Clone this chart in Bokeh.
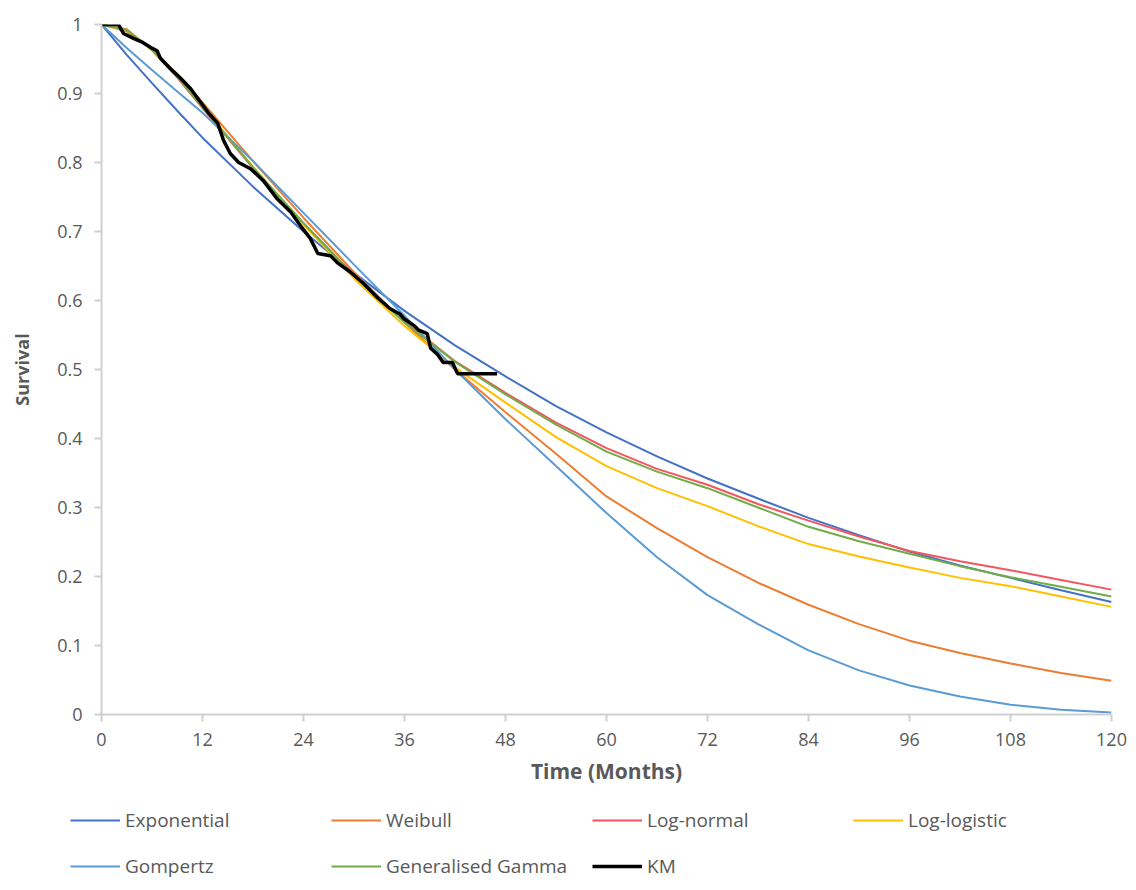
from bokeh.plotting import figure
from bokeh.models import Legend, LegendItem, FixedTicker, Range1d
from bokeh.layouts import column
from bokeh.embed import file_html
from bokeh.resources import INLINE

# ---- data ----
months = [0, 3, 6, 9, 12, 18, 24, 30, 36, 42, 48, 54, 60, 66, 72, 78, 84, 90, 96, 102, 108, 114, 120]
exponential = [1, 0.956, 0.915, 0.875, 0.836, 0.765, 0.700, 0.640, 0.585, 0.535, 0.490, 0.447, 0.409, 0.374,
               0.342, 0.313, 0.285, 0.260, 0.236, 0.216, 0.198, 0.180, 0.163]
weibull = [1, 0.990, 0.964, 0.928, 0.887, 0.802, 0.720, 0.641, 0.568, 0.500, 0.438, 0.378, 0.316, 0.270,
           0.228, 0.191, 0.159, 0.131, 0.107, 0.089, 0.074, 0.060, 0.049]
lognormal = [1, 0.993, 0.963, 0.923, 0.879, 0.792, 0.712, 0.637, 0.570, 0.512, 0.466, 0.423, 0.386, 0.356,
             0.333, 0.305, 0.281, 0.258, 0.237, 0.222, 0.209, 0.195, 0.181]
loglogistic = [1, 0.992, 0.963, 0.925, 0.882, 0.794, 0.710, 0.632, 0.563, 0.503, 0.452, 0.402, 0.360, 0.328,
               0.302, 0.273, 0.247, 0.229, 0.213, 0.198, 0.186, 0.171, 0.156]
gompertz = [1, 0.966, 0.934, 0.903, 0.872, 0.802, 0.727, 0.652, 0.578, 0.500, 0.428, 0.360, 0.292, 0.228,
            0.173, 0.131, 0.093, 0.064, 0.042, 0.026, 0.014, 0.007, 0.003]
gengamma = [1, 0.992, 0.963, 0.924, 0.880, 0.793, 0.712, 0.636, 0.568, 0.511, 0.464, 0.420, 0.381, 0.352,
            0.328, 0.300, 0.272, 0.251, 0.233, 0.215, 0.199, 0.185, 0.171]

km_time = [0, 2, 2.6, 3.8, 4.9, 6.1, 6.6, 7.0, 8.2, 9.4, 10.6, 11.8, 12.7, 13.8, 14.5, 15.3, 16.3, 17.7,
           19.2, 20.9, 22.5, 23.6, 24.8, 25.7, 27.2, 28.0, 29.6, 31.1, 32.8, 34.3, 35.5, 35.9, 37.1, 37.7,
           38.7, 39.1, 39.9, 40.6, 41.7, 42.3, 47.0]
km_surv = [1, 1, 0.987, 0.980, 0.974, 0.965, 0.962, 0.951, 0.936, 0.922, 0.907, 0.887, 0.872, 0.857, 0.832,
           0.813, 0.800, 0.791, 0.774, 0.747, 0.728, 0.709, 0.690, 0.668, 0.665, 0.655, 0.641, 0.625, 0.604,
           0.588, 0.580, 0.574, 0.564, 0.557, 0.552, 0.531, 0.522, 0.510, 0.510, 0.494, 0.494]

x_ticks = [0, 12, 24, 36, 48, 60, 72, 84, 96, 108, 120]
y_ticks = [0, 0.1, 0.2, 0.3, 0.4, 0.5, 0.6, 0.7, 0.8, 0.9, 1]

series = [
    ("Exponential", exponential, "#4472C4"),
    ("Weibull", weibull, "#ED7D31"),
    ("Log-normal", lognormal, "#F4555F"),
    ("Log-logistic", loglogistic, "#FFC000"),
    ("Gompertz", gompertz, "#5B9BD5"),
    ("Generalised Gamma", gengamma, "#70AD47"),
]

FONT = "Open Sans"
GREY = "#595959"
AXIS_GREY = "#D0D0D0"

# ---- main chart ----
p = figure(frame_width=1010, frame_height=690, output_backend="svg", toolbar_location=None,
           x_range=Range1d(0, 120), y_range=Range1d(0, 1),
           min_border_left=101, min_border_top=24, min_border_right=17, min_border_bottom=90)
p.outline_line_color = None
p.grid.visible = False

for name, vals, col in series:
    p.line(months, vals, line_color=col, line_width=2)
p.line(km_time, km_surv, line_color="black", line_width=3.5)

for ax in (p.xaxis[0], p.yaxis[0]):
    ax.axis_line_color = AXIS_GREY
    ax.axis_line_width = 2
    ax.major_tick_line_color = AXIS_GREY
    ax.major_tick_line_width = 2
    ax.minor_tick_line_color = None
    ax.major_label_text_font = FONT
    ax.major_label_text_font_size = "18px"
    ax.major_label_text_color = GREY
    ax.axis_label_text_font = FONT
    ax.axis_label_text_font_style = "bold"
    ax.axis_label_text_color = GREY

p.xaxis.ticker = FixedTicker(ticks=x_ticks)
p.yaxis.ticker = FixedTicker(ticks=y_ticks)
p.yaxis.major_label_overrides = {0: "0", 1: "1"}
p.xaxis.major_tick_in = 0
p.xaxis.major_tick_out = 7
p.yaxis.major_tick_in = 0
p.yaxis.major_tick_out = 7
p.xaxis.major_label_standoff = 11
p.yaxis.major_label_standoff = 12
p.xaxis.axis_label = "Time (Months)"
p.yaxis.axis_label = "Survival"
p.xaxis.axis_label_text_font_size = "21px"
p.yaxis.axis_label_text_font_size = "18px"
p.xaxis.axis_label_standoff = 8
p.yaxis.axis_label_standoff = 20

# ---- legend strip below the chart ----
q = figure(width=1128, height=82, output_backend="svg", toolbar_location=None,
           x_range=Range1d(0, 1), y_range=Range1d(0, 1),
           x_axis_location=None, y_axis_location=None,
           min_border_left=0, min_border_right=0, min_border_top=0, min_border_bottom=0)
q.frame_align = False
q.outline_line_color = None
q.grid.visible = False

legend_renderers = {}
for name, vals, col in series:
    legend_renderers[name] = q.line(months, vals, line_color=col, line_width=2, visible=False)
legend_renderers["KM"] = q.line(km_time, km_surv, line_color="black", line_width=3.5, visible=False)

# column-major fill: col1 Exponential/Gompertz, col2 Weibull/Gen. Gamma, col3 Log-normal/KM, col4 Log-logistic
legend_order = ["Exponential", "Gompertz", "Weibull", "Generalised Gamma", "Log-normal", "KM", "Log-logistic"]
items = [LegendItem(label=n, renderers=[legend_renderers[n]]) for n in legend_order]

legend = Legend(items=items, ncols=4, location=(70, 7),
                glyph_width=50, glyph_height=20, label_height=20, label_width=186,
                label_standoff=5, spacing=20, padding=0, margin=0,
                border_line_color=None, background_fill_alpha=0, inactive_fill_alpha=0,
                label_text_font=FONT, label_text_font_size="19px", label_text_color=GREY)
q.add_layout(legend, "center")

open("out.html", "w").write(file_html(column(p, q), INLINE))
